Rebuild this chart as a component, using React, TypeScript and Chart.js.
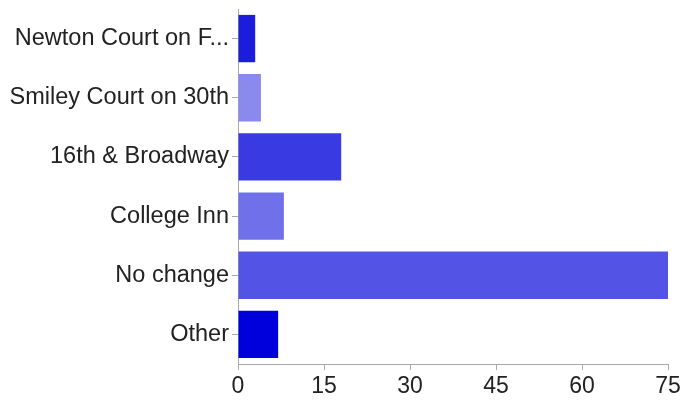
import React, { useEffect, useRef } from "react";
import { Chart, registerables } from "chart.js";

Chart.register(...registerables);

const categories = [
  "Newton Court on F...",
  "Smiley Court on 30th",
  "16th & Broadway",
  "College Inn",
  "No change",
  "Other",
];
const values = [3, 4, 18, 8, 75, 7];
const barColors = ["#1c1cdc", "#8a8aee", "#3a3ae2", "#7070ea", "#5353e6", "#0000dc"];
const xTicks = [0, 15, 30, 45, 60, 75];

export default function App() {
  const ref = useRef<HTMLCanvasElement>(null);
  useEffect(() => {
    document.body.style.margin = "0";
    const ctx = ref.current!;
    const chart = new Chart(ctx, {
      type: "bar",
      data: {
        labels: categories,
        datasets: [
          {
            data: values,
            backgroundColor: barColors,
            borderWidth: 0,
            barPercentage: 0.8,
            categoryPercentage: 1.0,
          },
        ],
      },
      options: {
        indexAxis: "y",
        animation: false,
        responsive: false,
        maintainAspectRatio: false,
        layout: { padding: { top: 9, right: 15, bottom: 0, left: 0 } },
        plugins: { legend: { display: false }, tooltip: { enabled: false } },
        scales: {
          x: {
            min: 0,
            max: 75,
            afterBuildTicks: (scale: any) => {
              scale.ticks = xTicks.map((v) => ({ value: v }));
            },
            afterFit: (scale: any) => {
              scale.height = 36;
              scale.paddingLeft = 0;
              scale.paddingRight = 0;
            },
            border: { color: "#aaaaaa", width: 1 },
            grid: { drawOnChartArea: false, drawTicks: true, tickLength: 6, color: "#aaaaaa" },
            ticks: {
              color: "#222",
              font: { family: "Liberation Sans, Arial", size: 23 },
              padding: 3,
              maxRotation: 0,
            },
          },
          y: {
            afterFit: (scale: any) => {
              scale.width = 238;
              scale.paddingTop = 0;
              scale.paddingBottom = 0;
            },
            border: { color: "#aaaaaa", width: 1 },
            grid: { drawOnChartArea: false, drawTicks: true, tickLength: 6, color: "#aaaaaa", offset: false },
            ticks: {
              color: "#222",
              font: { family: "Liberation Sans, Arial", size: 23.5 },
              padding: 3,
            },
          },
        },
      },
    });
    return () => chart.destroy();
  }, []);
  return (
    <div style={{ position: "absolute", left: 0, top: 0, width: 683, height: 400 }}>
      <canvas ref={ref} width={683} height={400} style={{ width: 683, height: 400 }} />
    </div>
  );
}
